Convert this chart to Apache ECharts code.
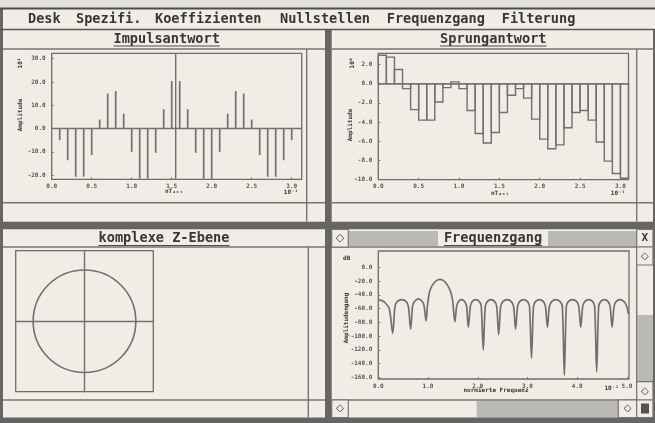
<!DOCTYPE html>
<html><head><meta charset="utf-8">
<script src="https://cdn.jsdelivr.net/npm/echarts@6/dist/echarts.min.js"></script>
<style>html,body{margin:0;padding:0;background:#eeece4}#c{width:655px;height:423px}</style>
</head><body><div id="c"></div><script>
// ---------------- data ----------------
const menuItems = ['Desk','Spezifi.','Koeffizienten','Nullstellen','Frequenzgang','Filterung'];
const windowTitles = ['Impulsantwort','Sprungantwort','komplexe Z-Ebene','Frequenzgang'];

const impulseTimes = [0.1,0.2,0.3,0.4,0.5,0.6,0.7,0.8,0.9,1.0,1.1,1.2,1.3,1.4,1.5,1.6,1.7,1.8,1.9,2.0,2.1,2.2,2.3,2.4,2.5,2.6,2.7,2.8,2.9,3.0];
const impulseValues = [-5.0,-13.6,-20.7,-20.7,-11.4,3.9,15.0,16.1,6.4,-10.0,-21.5,-21.5,-10.4,8.3,20.4,20.4,8.3,-10.4,-21.5,-21.5,-10.0,6.4,16.1,15.0,3.9,-11.4,-20.7,-20.7,-13.6,-5.0];
const impulseCenter = 1.55;
const impulseYTicks = [-20,-10,0,10,20,30];
const timeTicks = [0,0.5,1.0,1.5,2.0,2.5,3.0];

const stepPeriod = 0.1;
const stepTimes = [0.0,0.1,0.2,0.3,0.4,0.5,0.6,0.7,0.8,0.9,1.0,1.1,1.2,1.3,1.4,1.5,1.6,1.7,1.8,1.9,2.0,2.1,2.2,2.3,2.4,2.5,2.6,2.7,2.8,2.9,3.0];
const stepValues = [3.0,2.8,1.5,-0.5,-2.7,-3.8,-3.8,-1.9,-0.4,0.2,-0.5,-2.8,-5.2,-6.2,-5.1,-3.0,-1.2,-0.5,-1.5,-3.7,-5.8,-6.8,-6.4,-4.6,-3.0,-2.8,-3.8,-6.1,-8.1,-9.4,-9.9];
const stepYTicks = [-10,-8,-6,-4,-2,0,2];

const freqX = [
 0.00,0.07,0.13,0.22,0.29,
 0.335,0.38,0.47,0.56,0.605,0.65,
 0.69,0.73,0.805,0.88,0.92,0.96,
 0.99,1.04,1.14,1.24,1.34,1.44,1.49,1.54,
 1.575,1.61,1.675,1.74,1.775,1.81,
 1.85,1.885,1.96,2.035,2.07,2.11,
 2.15,2.19,2.265,2.34,2.38,2.42,
 2.46,2.505,2.59,2.675,2.72,2.76,
 2.80,2.84,2.92,3.00,3.04,3.08,
 3.12,3.16,3.24,3.32,3.36,3.40,
 3.44,3.485,3.57,3.655,3.70,3.74,
 3.78,3.82,3.905,3.99,4.03,4.07,
 4.11,4.15,4.23,4.31,4.35,4.39,
 4.43,4.47,4.545,4.62,4.66,4.70,
 4.74,4.78,4.86,4.94,4.99,5.03];
const freqDb = [
 -47.5,-48.5,-51,-60,-96,
 -57,-50,-47,-50,-57,-90,
 -56,-49.5,-46,-49.5,-56,-78,
 -55,-33,-21,-17.5,-21,-33,-46,-79,
 -57,-50,-47,-50,-57,-87,
 -57,-50,-47,-50,-57,-120,
 -57,-50,-47,-50,-57,-98,
 -57,-50,-47,-50,-57,-90,
 -57,-50,-47,-50,-57,-132,
 -57,-50,-47,-50,-57,-87,
 -57,-50,-47,-50,-57,-157,
 -57,-50,-47,-50,-57,-87,
 -57,-50,-47,-50,-57,-152,
 -57,-50,-47,-50,-57,-87,
 -57,-50,-47,-50,-56,-68];
const freqXTicks = [0,1,2,3,4,5];
const freqYTicks = [0,-20,-40,-60,-80,-100,-120,-140,-160];

const unitCircle = [[0,0,1]];

// ---------------- styles / layout ----------------
const COL = {bg:'#efede5', top:'#e3e1db', dark:'#676563', line:'#777573', text:'#383634',
             plot:'#72706e', pattern:'#bbb9b4', label:'#575553'};
const MONO = 'DejaVu Sans Mono';
const menuX = [28,76,155,280,386.7,501.7];

const g = [];
function rect(x,y,w,h,fill,stroke,lw,z){ g.push({type:'rect',silent:true,z:z==null?-10:z,shape:{x:x,y:y,width:w,height:h},style:{fill:fill,stroke:stroke||null,lineWidth:lw||0}}); }
function line(x1,y1,x2,y2,lw,color){ g.push({type:'line',silent:true,z:-5,shape:{x1:x1,y1:y1,x2:x2,y2:y2},style:{stroke:color||COL.line,lineWidth:lw||1}}); }
function text(x,y,s,font,align,rot,color){ g.push({type:'text',silent:true,z:5,x:x,y:y,rotation:rot||0,style:{text:s,font:font,fill:color||COL.text,textAlign:align||'center',textVerticalAlign:'middle'}}); }

// photo edge above screen
rect(0,0,655,8,COL.top);
// menu bar
line(0,8.5,655,8.5,2,'#4e4c4a');
line(0,29.5,655,29.5,1.6,'#5a5856');
menuItems.forEach((m,i)=>text(menuX[i],19.5,m,'bold 13.6px '+MONO,'left'));
// dark frame bars
rect(0,8,3,415,COL.dark,null,0,-6);
rect(325,29,6.7,394,COL.dark,null,0,-6);
rect(0,221.7,655,7.6,COL.dark,null,0,-6);
rect(0,417.5,655,5.5,COL.dark,null,0,-6);
rect(653,29,2,394,COL.dark,null,0,-6);

const TF = 'bold 13.6px '+MONO;
function titleText(cx,cy,s){ text(cx,cy,s,TF,'center'); const w=s.length*8.19; line(cx-w/2,cy+7,cx+w/2,cy+7,1.2,'#4e4c4a'); }
// top-left window
line(3,49,325,49,1.4);
titleText(166.7,39,windowTitles[0]);
line(306.7,49,306.7,221.7,1.4);
line(3,202.7,325,202.7,1.4);
// top-right window
line(331.7,49,655,49,1.4);
titleText(493.3,39,windowTitles[1]);
line(636.7,49,636.7,221.7,1.4);
line(331.7,202.7,655,202.7,1.4);
// bottom-left window
line(3,247,325,247,1.4);
titleText(164,238.5,windowTitles[2]);
line(308.3,247,308.3,417.5,1.4);
line(3,400,325,400,1.4);
// bottom-right window (active)
rect(348.3,231,288.4,15,COL.pattern);
rect(438,231,110,15,COL.bg);
titleText(493,238.5,windowTitles[3]);
rect(331.7,229.3,16.6,17.7,COL.bg,COL.line,1.2,-4);
text(340,238.5,'\u25C7','bold 11px DejaVu Sans','center');
rect(636.7,229.3,16.3,17.7,COL.bg,COL.line,1.2,-4);
text(644.8,238.5,'X','bold 11px '+MONO,'center');
line(331.7,247,655,247,1.4);
line(636.7,247,636.7,417.5,1.4);
rect(637.4,315,15.6,66.7,COL.pattern);
rect(636.7,247,16.3,18,COL.bg,COL.line,1.2,-4);
text(644.8,256.5,'\u25C7','bold 10px DejaVu Sans','center');
rect(636.7,381.7,16.3,18.3,COL.bg,COL.line,1.2,-4);
text(644.8,391,'\u25C7','bold 10px DejaVu Sans','center');
line(331.7,400,655,400,1.4);
rect(476.7,400.7,141.6,16.8,COL.pattern);
rect(331.7,400,16.6,17.5,COL.bg,COL.line,1.2,-4);
text(340,408.7,'\u25C7','bold 10px DejaVu Sans','center');
rect(618.3,400,18.4,17.5,COL.bg,COL.line,1.2,-4);
text(627.5,408.7,'\u25C7','bold 10px DejaVu Sans','center');
rect(636.7,400,16.3,17.5,COL.bg,COL.line,1.2,-4);
rect(641,403.5,8,10,'#555351',null,0,-3);

// axis annotation texts
const SF = 'bold 6px '+MONO;
text(20,63,'10\u00B9',SF,'center',Math.PI/2);
text(20,115,'Amplitude',SF,'center',Math.PI/2);
text(174,191.5,'nT\u2090\u2099\u209C',SF,'center');
text(291,192.5,'10\u207B\u00B9',SF,'center');
text(352,63,'10\u2070',SF,'center',Math.PI/2);
text(350,125,'Amplitude',SF,'center',Math.PI/2);
text(500,193,'nT\u2090\u2099\u209C',SF,'center');
text(618,193,'10\u207B\u00B9',SF,'center');
text(346.7,258.3,'dB',SF,'center');
text(346,318,'Amplitudengang',SF,'center',Math.PI/2);
text(496,390,'normierte Frequenz',SF,'center');
text(611.7,388.5,'10\u207B\u00B9',SF,'center');

// ---------------- chart ----------------
const lbl = {fontSize:6,fontFamily:MONO,fontWeight:'bold',color:COL.label};
const fmt1 = v => Number(v).toFixed(1);
function vAxis(gi,min,max,ticks,isX){
  return {gridIndex:gi,type:'value',min:min,max:max,
    axisLine:{show:false,onZero:false},splitLine:{show:false},
    axisTick:{show:true,inside:true,length:2,customValues:ticks,lineStyle:{color:COL.line,width:1}},
    axisLabel:Object.assign({customValues:ticks,formatter:fmt1,margin:isX?4:6},lbl)};
}
const gridStyle = {show:true,borderColor:'#6f6d6b',borderWidth:1.3,backgroundColor:'transparent',containLabel:false};
const grids = [
  Object.assign({left:51.7,top:53.3,width:250,height:126},gridStyle),
  Object.assign({left:378.3,top:53.3,width:250.2,height:126.4},gridStyle),
  Object.assign({left:15.7,top:250.7,width:137.6,height:141},gridStyle),
  Object.assign({left:378.3,top:251,width:250.7,height:128},gridStyle)
];

function stemRender(params, api){
  const x=api.value(0), y=api.value(1);
  const p0=api.coord([x,0]), p1=api.coord([x,y]);
  return {type:'line',shape:{x1:p0[0],y1:p0[1],x2:p1[0],y2:p1[1]},style:{stroke:COL.plot,lineWidth:1.7}};
}
function stepRender(params, api){
  const t=api.value(0), v=api.value(1);
  const p0=api.coord([t,0]), p1=api.coord([t+stepPeriod,v]);
  return {type:'rect',shape:{x:p0[0],y:Math.min(p0[1],p1[1]),width:p1[0]-p0[0],height:Math.abs(p1[1]-p0[1])},
          style:{stroke:COL.plot,lineWidth:1.4,fill:null}};
}
function hvRender(vertical){
  return function(params, api){
    const cs=params.coordSys;
    const p=api.coord([api.value(0),api.value(1)]);
    const ch=[{type:'line',shape:{x1:cs.x,y1:p[1],x2:cs.x+cs.width,y2:p[1]},style:{stroke:COL.plot,lineWidth:1.4}}];
    if(vertical) ch.push({type:'line',shape:{x1:p[0],y1:cs.y,x2:p[0],y2:cs.y+cs.height},style:{stroke:COL.plot,lineWidth:1.4}});
    return {type:'group',children:ch};
  };
}
function circleRender(params, api){
  const c=api.coord([api.value(0),api.value(1)]);
  const r=api.size([api.value(2),api.value(2)]);
  return {type:'ellipse',shape:{cx:c[0],cy:c[1],rx:r[0],ry:r[1]},style:{stroke:COL.plot,lineWidth:1.6,fill:null}};
}

const zAxisStyle = {show:true,onZero:true,lineStyle:{color:COL.plot,width:1.4}};

const option = {
  animation:false,
  backgroundColor:COL.bg,
  graphic:g,
  grid:grids,
  xAxis:[
    vAxis(0,0,3.125,timeTicks,true),
    vAxis(1,0,3.1,timeTicks,true),
    {gridIndex:2,type:'value',min:-1.34,max:1.34,axisLine:zAxisStyle,axisTick:{show:false},axisLabel:{show:false},splitLine:{show:false}},
    vAxis(3,0,5.04,freqXTicks,true)
  ],
  yAxis:[
    vAxis(0,-21.8,32.3,impulseYTicks,false),
    vAxis(1,-10.05,3.2,stepYTicks,false),
    {gridIndex:2,type:'value',min:-1.375,max:1.375,axisLine:zAxisStyle,axisTick:{show:false},axisLabel:{show:false},splitLine:{show:false}},
    vAxis(3,-162.5,23.7,freqYTicks,false)
  ],
  series:[
    {type:'custom',xAxisIndex:0,yAxisIndex:0,renderItem:hvRender(true),data:[[impulseCenter,0]],silent:true},
    {type:'custom',xAxisIndex:0,yAxisIndex:0,renderItem:stemRender,data:impulseTimes.map((t,i)=>[t,impulseValues[i]]),silent:true},
    {type:'custom',xAxisIndex:1,yAxisIndex:1,renderItem:hvRender(false),data:[[0,0]],silent:true},
    {type:'custom',xAxisIndex:1,yAxisIndex:1,renderItem:stepRender,data:stepTimes.map((t,i)=>[t,stepValues[i]]),silent:true},
    {type:'custom',xAxisIndex:2,yAxisIndex:2,renderItem:circleRender,data:unitCircle,silent:true},
    {type:'line',xAxisIndex:3,yAxisIndex:3,data:freqX.map((f,i)=>[f,freqDb[i]]),symbol:'none',smooth:0.3,
     lineStyle:{color:COL.plot,width:1.7},silent:true}
  ]
};
const chart = echarts.init(document.getElementById('c'),null,{renderer:'canvas'});
chart.setOption(option);
</script></body></html>
